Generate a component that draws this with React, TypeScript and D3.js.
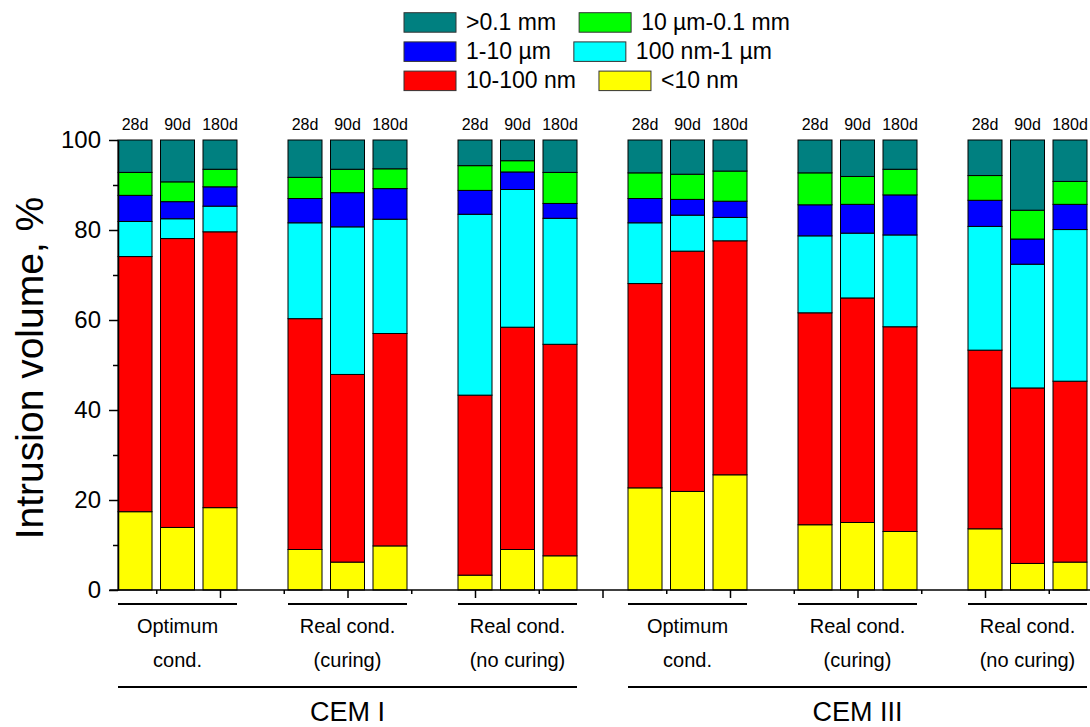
import React, { useEffect, useRef } from 'react';
import * as d3 from 'd3';

const width = 1090;
const height = 727;
const font = 'Arial, "Liberation Sans", Helvetica, sans-serif';

const days = ['28d', '90d', '180d'];
const conditions = [
  ['Optimum', 'cond.'],
  ['Real cond.', '(curing)'],
  ['Real cond.', '(no curing)'],
];
const cements = ['CEM I', 'CEM III'];

const series = ['<10 nm', '10-100 nm', '100 nm-1 µm', '1-10 µm', '10 µm-0.1 mm', '>0.1 mm'];
const colors = ['#ffff00', '#ff0000', '#00ffff', '#0000ff', '#00ff00', '#008080'];
// legend rows, as indices into series
const legendRows = [
  [5, 4],
  [3, 2],
  [1, 0],
];

// % of intrusion volume per pore class; 18 bars = CEM I (3 cond x 3 ages), then CEM III
const lt10nm = [17.4, 13.9, 18.3, 9.0, 6.2, 9.8, 3.3, 9.0, 7.6, 22.7, 21.9, 25.6, 14.5, 15.0, 13.0, 13.6, 5.9, 6.2];
const nm10to100 = [56.7, 64.2, 61.3, 51.3, 41.7, 47.2, 40.0, 49.4, 47.0, 45.4, 53.4, 52.0, 47.1, 49.9, 45.5, 39.7, 39.0, 40.2];
const nm100to1um = [7.8, 4.4, 5.7, 21.3, 32.8, 25.4, 40.2, 30.6, 28.0, 13.5, 8.0, 5.2, 17.1, 14.4, 20.4, 27.5, 27.5, 33.7];
const um1to10 = [5.8, 3.8, 4.3, 5.4, 7.6, 6.8, 5.3, 3.9, 3.3, 5.4, 3.5, 3.6, 6.9, 6.4, 8.9, 5.8, 5.6, 5.6];
const um10to01mm = [5.1, 4.4, 3.9, 4.7, 5.2, 4.4, 5.5, 2.5, 6.9, 5.7, 5.6, 6.7, 7.1, 6.2, 5.7, 5.5, 6.4, 5.1];
const gt01mm = [7.2, 9.3, 6.5, 8.3, 6.5, 6.4, 5.7, 4.6, 7.2, 7.3, 7.6, 6.9, 7.3, 8.1, 6.5, 7.9, 15.6, 9.2];

const yTicks = [0, 20, 40, 60, 80, 100];
const yMinorTicks = [10, 30, 50, 70, 90];

export default function App() {
  const svgRef = useRef<SVGSVGElement>(null);

  useEffect(() => {
    const svg = d3.select(svgRef.current);
    svg.selectAll('*').remove();

    const valuesBySeries = [lt10nm, nm10to100, nm100to1um, um1to10, um10to01mm, gt01mm];
    // slot index: each condition group takes 3 bars + 1 empty slot
    const table = lt10nm.map((_, i) => {
      const row: any = { slot: Math.floor(i / 3) * 4 + (i % 3), day: days[i % 3] };
      series.forEach((s, k) => (row[s] = valuesBySeries[k][i]));
      return row;
    });
    const stacked = d3.stack<any>().keys(series)(table);

    const x = d3.scaleLinear().domain([0, 22]).range([135, 1070]);
    const y = d3.scaleLinear().domain([0, 100]).range([590, 140]);
    const bw = x(0.8) - x(0);

    // bars
    const barG = svg.append('g');
    stacked.forEach((layer, k) => {
      barG
        .append('g')
        .attr('fill', colors[k])
        .selectAll('rect')
        .data(layer)
        .join('rect')
        .attr('x', (d) => x(d.data.slot) - bw / 2)
        .attr('y', (d) => y(d[1]))
        .attr('width', bw)
        .attr('height', (d) => y(d[0]) - y(d[1]))
        .attr('stroke', '#000')
        .attr('stroke-width', 1);
    });

    // y axis
    const axisX = x(-0.4);
    const yAxis = svg.append('g').attr('transform', `translate(${axisX},0)`);
    yAxis
      .call(d3.axisLeft(y).tickValues(yTicks).tickSize(9).tickSizeOuter(0).tickPadding(8))
      .call((g) => g.selectAll('line,path').attr('stroke-width', 1.5))
      .call((g) => g.selectAll('.tick text').attr('font-size', 24).attr('font-family', font).attr('fill', '#000'));
    svg
      .append('g')
      .attr('transform', `translate(${axisX},0)`)
      .call(d3.axisLeft(y).tickValues(yMinorTicks).tickSize(5).tickSizeOuter(0).tickFormat(() => ''))
      .call((g) => g.select('.domain').remove())
      .call((g) => g.selectAll('line').attr('stroke-width', 1.5));

    // x axis
    const xTicks = d3.range(0.5, 22, 1.5);
    const xMajor = xTicks.filter((t) => (t - 2) % 3 === 0);
    const xMinor = xTicks.filter((t) => (t - 2) % 3 !== 0);
    svg
      .append('line')
      .attr('x1', x(-0.6))
      .attr('x2', x(22.6))
      .attr('y1', y(0))
      .attr('y2', y(0))
      .attr('stroke', '#000')
      .attr('stroke-width', 1.5);
    svg
      .append('g')
      .attr('transform', `translate(0,${y(0)})`)
      .call(d3.axisBottom(x).tickValues(xMajor).tickSize(8).tickSizeOuter(0).tickFormat(() => ''))
      .call((g) => g.select('.domain').remove())
      .call((g) => g.selectAll('line').attr('stroke-width', 1.5));
    svg
      .append('g')
      .attr('transform', `translate(0,${y(0)})`)
      .call(d3.axisBottom(x).tickValues(xMinor).tickSize(4).tickSizeOuter(0).tickFormat(() => ''))
      .call((g) => g.select('.domain').remove())
      .call((g) => g.selectAll('line').attr('stroke-width', 1.5));

    // age labels above bars
    svg
      .append('g')
      .selectAll('text')
      .data(table)
      .join('text')
      .attr('x', (d) => x(d.slot))
      .attr('y', 130)
      .attr('text-anchor', 'middle')
      .attr('font-size', 16)
      .attr('font-family', font)
      .text((d) => d.day);

    // condition groups
    const groups = d3.range(6).map((g) => ({ start: g * 4, label: conditions[g % 3] }));
    const grpG = svg.append('g');
    groups.forEach((g) => {
      grpG
        .append('line')
        .attr('x1', x(g.start) - bw / 2)
        .attr('x2', x(g.start + 2) + bw / 2)
        .attr('y1', 604)
        .attr('y2', 604)
        .attr('stroke', '#000')
        .attr('stroke-width', 2);
      g.label.forEach((t, li) => {
        grpG
          .append('text')
          .attr('x', x(g.start + 1))
          .attr('y', 633 + li * 34)
          .attr('text-anchor', 'middle')
          .attr('font-size', 20)
          .attr('font-family', font)
          .text(t);
      });
    });

    // cement groups
    cements.forEach((c, ci) => {
      const s0 = ci * 12;
      const s1 = ci * 12 + 10;
      svg
        .append('line')
        .attr('x1', x(s0) - bw / 2)
        .attr('x2', x(s1) + bw / 2)
        .attr('y1', 687)
        .attr('y2', 687)
        .attr('stroke', '#000')
        .attr('stroke-width', 2);
      svg
        .append('text')
        .attr('x', (x(s0) + x(s1)) / 2)
        .attr('y', 721)
        .attr('text-anchor', 'middle')
        .attr('font-size', 27)
        .attr('font-family', font)
        .text(c);
    });

    // y title
    svg
      .append('text')
      .attr('transform', `translate(43,${(y(0) + y(100)) / 2 + 3}) rotate(-90)`)
      .attr('text-anchor', 'middle')
      .attr('font-size', 39)
      .attr('font-family', font)
      .text('Intrusion volume, %');

    // legend
    const leg = svg.append('g');
    legendRows.forEach((row, ri) => {
      const top = 12.7 + ri * 29.2;
      let cx = 404;
      row.forEach((k) => {
        leg
          .append('rect')
          .attr('x', cx)
          .attr('y', top)
          .attr('width', 52)
          .attr('height', 19.5)
          .attr('fill', colors[k])
          .attr('stroke', '#333')
          .attr('stroke-width', 1);
        const t = leg
          .append('text')
          .attr('x', cx + 62)
          .attr('y', top + 17)
          .attr('font-size', 23)
          .attr('font-family', font)
          .text(series[k]);
        const w = (t.node() as SVGTextElement).getComputedTextLength();
        cx = cx + 62 + w + 23;
      });
    });
  }, []);

  return (
    <svg
      ref={svgRef}
      width={width}
      height={height}
      viewBox={`0 0 ${width} ${height}`}
      style={{ position: 'absolute', left: 0, top: 0, background: '#fff' }}
    ></svg>
  );
}
